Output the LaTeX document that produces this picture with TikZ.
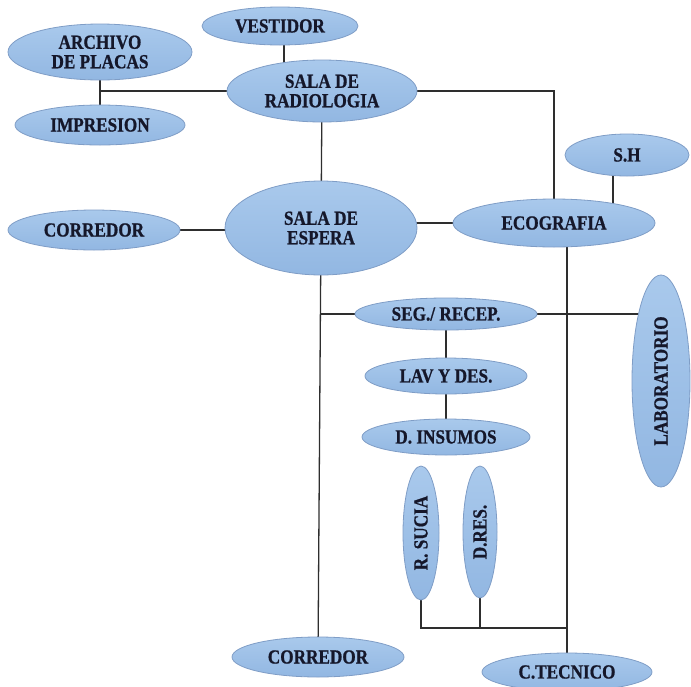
\documentclass[tikz,border=0pt]{standalone}
\usepackage{fontspec}
\setmainfont{Liberation Serif}[FakeStretch=0.86, BoldFeatures={FakeBold=0.8}]
\usetikzlibrary{shapes.geometric,backgrounds}

\definecolor{roomtop}{HTML}{A9C9EC}
\definecolor{roombot}{HTML}{92B7E2}
\definecolor{roomedge}{HTML}{7F9DC6}
\definecolor{linkgray}{HTML}{2E2E2E}
\definecolor{labelink}{HTML}{15172A}

\tikzset{
  room/.style={ellipse, draw=roomedge, line width=0.8pt,
    top color=roomtop, bottom color=roombot, inner sep=0pt,
    font=\fontsize{20}{19.5}\selectfont\bfseries, text=labelink, align=center},
  link/.style={draw=linkgray, line width=1.3pt}
}

\begin{document}
\begin{tikzpicture}[x=1pt,y=-1pt]
\useasboundingbox (0,0) rectangle (691,686);

% rooms
\node[room, minimum width=184, minimum height=56] (arch) at (100,52) {ARCHIVO\\DE PLACAS};
\node[room, minimum width=156, minimum height=38] (vest) at (280,26) {VESTIDOR};
\node[room, minimum width=190, minimum height=62] (radio) at (322,91) {SALA DE\\RADIOLOGIA};
\node[room, minimum width=170, minimum height=40] (imp) at (100,125) {IMPRESION};
\node[room, minimum width=192, minimum height=94] (esp) at (321,228) {SALA DE\\ESPERA};
\node[room, minimum width=172, minimum height=40] (corrA) at (94,230) {CORREDOR};
\node[room, minimum width=202, minimum height=48] (eco) at (554,223) {ECOGRAFIA};
\node[room, minimum width=124, minimum height=42] (sh) at (627,155) {S.H};
\node[room, minimum width=182, minimum height=32] (seg) at (446,314) {SEG./ RECEP.};
\node[room, minimum width=162, minimum height=36] (lav) at (446,376) {LAV Y DES.};
\node[room, minimum width=168, minimum height=36] (ins) at (446,437) {D. INSUMOS};
\node[room, rotate=90, minimum width=212, minimum height=58] (lab) at (661,381) {LABORATORIO};
\node[room, rotate=90, minimum width=134, minimum height=36] (rsu) at (421,533) {R. SUCIA};
\node[room, rotate=90, minimum width=132, minimum height=34] (dres) at (480,532) {D.RES.};
\node[room, minimum width=172, minimum height=40] (corrB) at (318,657) {CORREDOR};
\node[room, minimum width=170, minimum height=38] (ctec) at (567,672) {C.TECNICO};

\coordinate (jr) at (567,628);

% connectors, drawn behind the rooms
\begin{scope}[on background layer]
  \draw[link] (arch.center) -- (imp.center);
  \draw[link] (arch.center |- radio.center) -- (radio.center);
  \draw[link] ([xshift=4pt]vest.center) -- ([xshift=4pt]vest.center |- radio.center);
  \draw[link] (radio.center) -- (esp.center);
  \draw[link] (radio.center) -- (radio.center -| eco.center) -- (eco.center);
  \draw[link] (corrA.center) -- (corrA.center -| esp.center);
  \draw[link] (eco.center) -- (eco.center -| esp.center);
  \draw[link] ([xshift=-14pt]sh.center) -- ([xshift=-14pt]sh.center |- eco.center);
  \draw[link] (ctec.center) -- (ctec.center |- eco.center);
  \draw[link] (esp.center) -- (corrB.center);
  \draw[link] (seg.center) -- (seg.center -| esp.center);
  \draw[link] (seg.center) -- (seg.center -| lab.center);
  \draw[link] (seg.center) -- (ins.center);
  \draw[link] (rsu.center) -- (rsu.center |- jr) -- (jr);
  \draw[link] (dres.center) -- (dres.center |- jr);
\end{scope}
\end{tikzpicture}
\end{document}
